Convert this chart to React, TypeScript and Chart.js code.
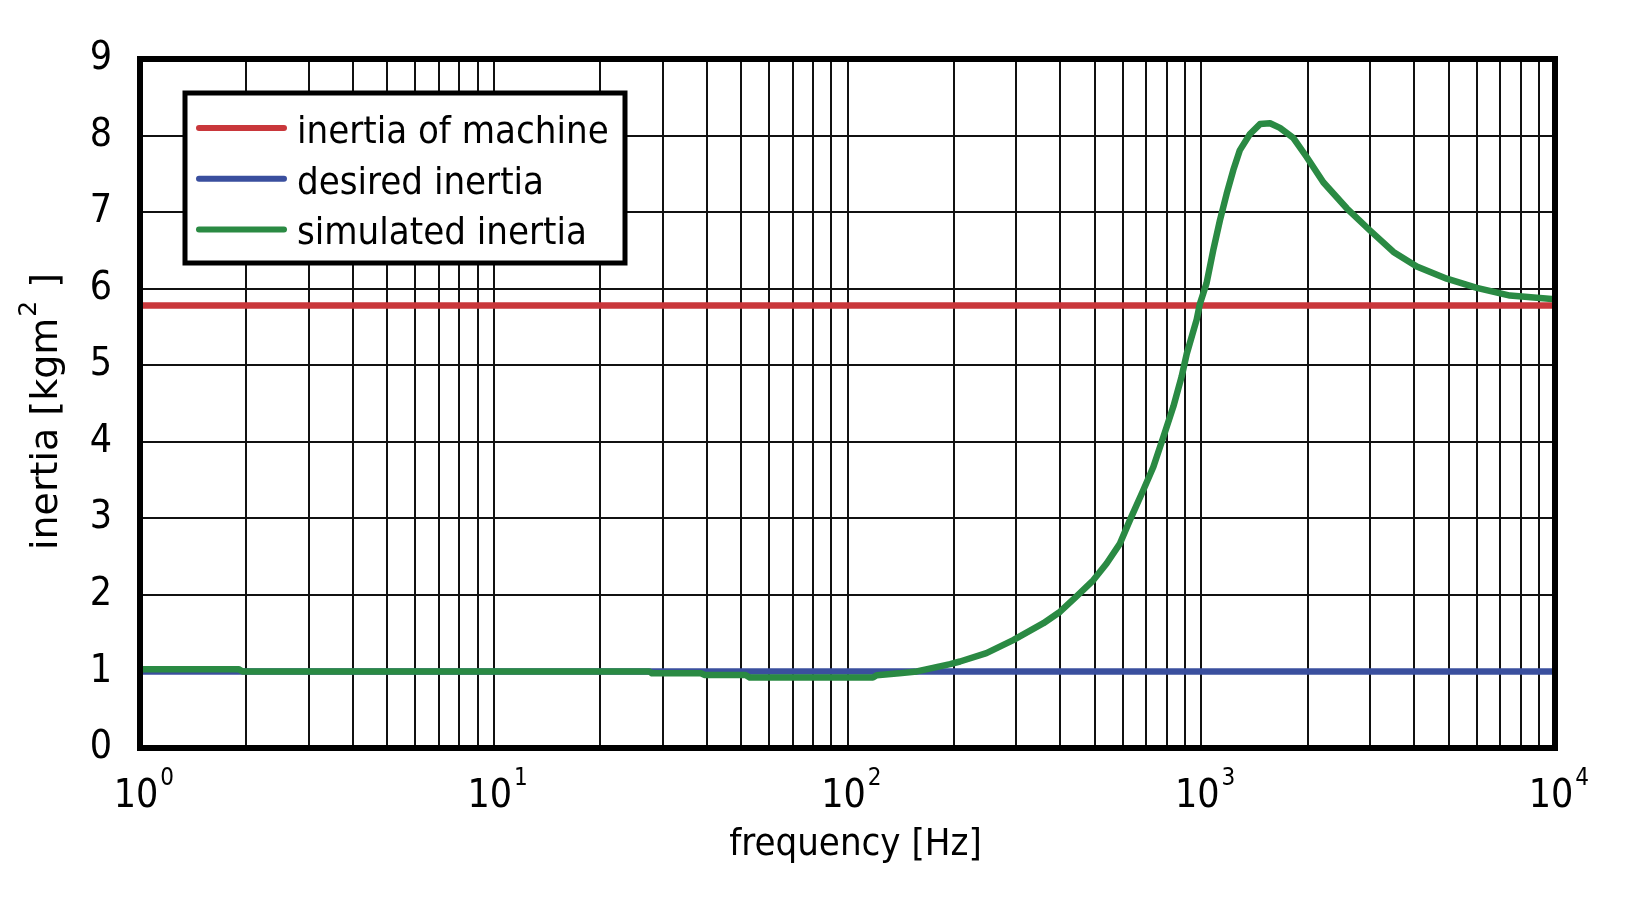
import React, { useEffect, useRef } from "react";
import { Chart, registerables } from "chart.js";

Chart.register(...registerables);

const FONT = "'DejaVu Sans Condensed', 'DejaVu Sans', sans-serif";
const TITLE_FONT = "'DejaVu Sans', sans-serif";

// frequency [Hz] of the simulated curve samples
const FREQ = [
  1, 1.9, 1.95, 27.5, 28, 38.5, 39.5, 51.5, 53, 118, 121, 140, 157, 168, 195, 208,
  247, 294, 358, 399, 444, 495, 540, 589, 629, 686, 732, 781, 834, 880, 910, 971,
  991, 1035, 1081, 1129, 1180, 1232, 1286, 1373, 1466, 1565, 1669, 1820, 1986, 2213,
  2578, 3000, 3494, 4067, 4943, 6010, 7460, 10000,
];
// simulated inertia [kgm^2]
const SIMULATED = [
  1.03, 1.03, 1.0, 1.0, 0.975, 0.975, 0.953, 0.953, 0.92, 0.92, 0.95, 0.975, 1.0, 1.03, 1.096, 1.13,
  1.24, 1.41, 1.63, 1.78, 1.98, 2.19, 2.41, 2.67, 2.98, 3.37, 3.67, 4.06, 4.46, 4.85, 5.15, 5.6,
  5.8, 6.07, 6.5, 6.89, 7.24, 7.55, 7.81, 8.02, 8.15, 8.16, 8.1, 7.97, 7.72, 7.39,
  7.05, 6.76, 6.48, 6.29, 6.13, 6.01, 5.91, 5.86,
];
const MACHINE_INERTIA = 5.78;
const DESIRED_INERTIA = 1.0;

const F_MIN = 1;
const F_MAX = 10000;
const DECADES = [0, 1, 2, 3, 4];
const GRID_STEPS = [1, 2, 3, 4, 5, 6, 7, 8, 9];
const Y_MIN = 0;
const Y_MAX = 9;

const LABELS = ["inertia of machine", "desired inertia", "simulated inertia"];
const COLORS = ["#c9373b", "#3a4f9e", "#2a8a43"];

const X_GRID = DECADES.slice(0, -1)
  .flatMap(e => GRID_STEPS.map(s => s * Math.pow(10, e)))
  .concat(Math.pow(10, DECADES[DECADES.length - 1]));

const decorations = {
  id: "decorations",
  afterDatasetsDraw(chart: any) {
    const { ctx, chartArea: a } = chart;
    ctx.save();
    ctx.strokeStyle = "#000";
    ctx.lineWidth = 6;
    ctx.strokeRect(a.left, a.top, a.right - a.left, a.bottom - a.top);
    ctx.restore();
  },
  afterDraw(chart: any) {
    const { ctx, chartArea: a, scales } = chart;
    const x = scales.x;
    ctx.save();
    ctx.fillStyle = "#000";

    // x tick labels 10^n
    for (const e of DECADES) {
      const px = x.getPixelForValue(Math.pow(10, e));
      ctx.font = `39px ${FONT}`;
      ctx.textAlign = "center";
      ctx.textBaseline = "alphabetic";
      const wb = ctx.measureText("10").width;
      ctx.fillText("10", px - 4, a.bottom + 59);
      ctx.font = `24px ${FONT}`;
      ctx.textAlign = "left";
      ctx.fillText(String(e), px - 4 + wb / 2 + 2, a.bottom + 37);
    }

    // x title
    ctx.font = `38px ${FONT}`;
    ctx.textAlign = "center";
    ctx.fillText("frequency [Hz]", (a.left + a.right) / 2 + 8, a.bottom + 107);

    // y title (rotated, with superscript)
    ctx.save();
    ctx.translate(57, (a.top + a.bottom) / 2 + 8);
    ctx.rotate(-Math.PI / 2);
    ctx.textAlign = "left";
    ctx.font = `38px ${TITLE_FONT}`;
    const p1 = "inertia [kgm";
    const p3 = " ]";
    const w1 = ctx.measureText(p1).width;
    const w3 = ctx.measureText(p3).width;
    ctx.font = `25px ${TITLE_FONT}`;
    const w2 = ctx.measureText("2").width;
    const total = w1 + w2 + 2 + w3;
    let u = -total / 2;
    ctx.font = `38px ${TITLE_FONT}`;
    ctx.fillText(p1, u, 0);
    u += w1 + 1;
    ctx.font = `25px ${TITLE_FONT}`;
    ctx.fillText("2", u, -21);
    u += w2 + 1;
    ctx.font = `38px ${TITLE_FONT}`;
    ctx.fillText(p3, u, 0);
    ctx.restore();

    // legend
    const bx = a.left + 45;
    const by = a.top + 34;
    ctx.fillStyle = "#fff";
    ctx.fillRect(bx, by, 440, 170);
    ctx.strokeStyle = "#000";
    ctx.lineWidth = 5;
    ctx.strokeRect(bx, by, 440, 170);
    chart.data.datasets.forEach((ds: any, i: number) => {
      const ly = by + 35 + i * 50.7;
      ctx.strokeStyle = ds.borderColor;
      ctx.lineWidth = 6;
      ctx.lineCap = "round";
      ctx.beginPath();
      ctx.moveTo(bx + 14, ly);
      ctx.lineTo(bx + 99, ly);
      ctx.stroke();
      ctx.fillStyle = "#000";
      ctx.font = `38px ${FONT}`;
      ctx.textAlign = "left";
      ctx.textBaseline = "alphabetic";
      ctx.fillText(ds.label, bx + 112, ly + 15);
    });
    ctx.restore();
  },
};

const App: React.FC = () => {
  const canvas = useRef<HTMLCanvasElement>(null);

  useEffect(() => {
    const chart = new Chart(canvas.current!.getContext("2d")!, {
      type: "line",
      data: {
        datasets: [
          {
            label: LABELS[0],
            data: [
              { x: F_MIN, y: MACHINE_INERTIA },
              { x: F_MAX, y: MACHINE_INERTIA },
            ],
            borderColor: COLORS[0],
            borderWidth: 6.5,
            order: 3,
          },
          {
            label: LABELS[1],
            data: [
              { x: F_MIN, y: DESIRED_INERTIA },
              { x: F_MAX, y: DESIRED_INERTIA },
            ],
            borderColor: COLORS[1],
            borderWidth: 6.5,
            order: 2,
          },
          {
            label: LABELS[2],
            data: FREQ.map((f, i) => ({ x: f, y: SIMULATED[i] })),
            borderColor: COLORS[2],
            borderWidth: 6.5,
            order: 1,
          },
        ],
      },
      options: {
        responsive: false,
        animation: false,
        layout: {
          padding: { top: 59, right: 79, left: 0, bottom: 0 },
        },
        elements: {
          point: { radius: 0 },
          line: { tension: 0, borderJoinStyle: "round", borderCapStyle: "butt" },
        },
        plugins: {
          legend: { display: false },
          tooltip: { enabled: false },
        },
        scales: {
          x: {
            type: "logarithmic",
            min: F_MIN,
            max: F_MAX,
            afterBuildTicks: (scale: any) => {
              scale.ticks = X_GRID.map(v => ({ value: v }));
            },
            afterFit: (scale: any) => {
              scale.height = 171;
            },
            ticks: { display: false, autoSkip: false },
            grid: { color: "#111", lineWidth: 2, drawTicks: false },
            border: { display: false },
          },
          y: {
            type: "linear",
            min: Y_MIN,
            max: Y_MAX,
            afterFit: (scale: any) => {
              scale.width = 140;
            },
            ticks: {
              stepSize: 1,
              color: "#000",
              padding: 28,
              font: { family: FONT, size: 39 },
            },
            grid: { color: "#111", lineWidth: 2, drawTicks: false },
            border: { display: false },
          },
        },
      },
      plugins: [decorations],
    } as any);

    return () => {
      chart.destroy();
    };
  }, []);

  return (
    <div style={{ position: "fixed", left: 0, top: 0, width: 1634, height: 919, background: "#fff" }}>
      <canvas ref={canvas} width={1634} height={919}></canvas>
    </div>
  );
};

export default App;
